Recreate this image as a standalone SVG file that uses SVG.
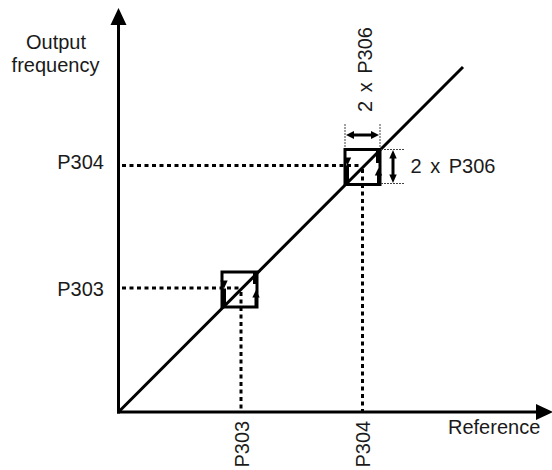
<svg xmlns="http://www.w3.org/2000/svg" width="552" height="470" viewBox="0 0 552 470">
<style>
.ax{stroke:#000;stroke-width:3;fill:none}
.dash{stroke:#000;stroke-width:3;stroke-dasharray:4 3.5;fill:none}
.ext{stroke:#444;stroke-width:1;stroke-dasharray:2 1;fill:none}
.box{stroke:#000;stroke-width:3;fill:none}
.thick{stroke:#000;stroke-width:5;fill:none}
.head{fill:#000;stroke:none}
.t{font-family:"Liberation Sans",Arial,Helvetica,sans-serif;font-size:20px;fill:#1a1a1a}
</style>
<rect width="552" height="470" fill="#fff"/>
<g id="connectors">
  <line class="ax" x1="118.5" y1="413.5" x2="118.5" y2="24"/>
  <polygon class="head" points="118.5,8 110.5,25 126.5,25"/>
  <line class="ax" x1="117" y1="412" x2="538" y2="412"/>
  <polygon class="head" points="553,412 536,404 536,420"/>
  <line class="ax" x1="118.5" y1="412" x2="463" y2="67"/>
  <line class="dash" x1="122" y1="288" x2="240" y2="288"/>
  <line class="dash" x1="241" y1="292" x2="241" y2="411"/>
  <line class="dash" x1="122" y1="165.5" x2="361" y2="165.5"/>
  <line class="dash" x1="362.5" y1="169" x2="362.5" y2="411"/>
</g>
<g id="box1">
  <rect class="box" x="222" y="272" width="35" height="35"/>
  <line class="thick" x1="223.5" y1="288.5" x2="223.5" y2="307"/>
  <polygon class="head" points="224,288.5 220.3,280.5 227.7,280.5"/>
  <line class="thick" x1="255.5" y1="272" x2="255.5" y2="284"/>
  <polygon class="head" points="256,290 252.3,297.5 259.7,297.5"/>
  <line class="ax" x1="256" y1="297" x2="256" y2="307"/>
</g>
<g id="box2">
  <rect class="box" x="345" y="149.5" width="35" height="35"/>
  <line class="thick" x1="346.5" y1="165.5" x2="346.5" y2="184.5"/>
  <polygon class="head" points="347.5,165.5 343.8,157.5 351.2,157.5"/>
  <line class="thick" x1="378.5" y1="149.5" x2="378.5" y2="163"/>
  <polygon class="head" points="378.5,168 374.8,175.5 382.2,175.5"/>
  <line class="ax" x1="378.5" y1="175" x2="378.5" y2="184.5"/>
</g>
<g id="dimensions">
  <line class="ext" x1="345" y1="124" x2="345" y2="148"/>
  <line class="ext" x1="380" y1="124" x2="380" y2="148"/>
  <line class="ax" x1="353" y1="135" x2="372" y2="135"/>
  <polygon class="head" points="346,135 354,131 354,139"/>
  <polygon class="head" points="379,135 371,131 371,139"/>
  <line class="ext" x1="381" y1="149.5" x2="404" y2="149.5"/>
  <line class="ext" x1="381" y1="183.5" x2="404" y2="183.5"/>
  <line class="ax" x1="393" y1="157" x2="393" y2="176"/>
  <polygon class="head" points="393,150 389.3,158.5 396.7,158.5"/>
  <polygon class="head" points="393,183 389.3,174.5 396.7,174.5"/>
</g>
<g id="labels">
  <text class="t" x="56" y="49" text-anchor="middle">Output</text>
  <text class="t" x="55.5" y="72" text-anchor="middle">frequency</text>
  <text class="t" x="104" y="168.5" text-anchor="end">P304</text>
  <text class="t" x="104" y="295.5" text-anchor="end">P303</text>
  <text class="t" x="410.5" y="173" style="word-spacing:3px">2 x P306</text>
  <text class="t" transform="translate(371.5,112) rotate(-90)" style="word-spacing:3px">2 x P306</text>
  <text class="t" transform="translate(249,467.5) rotate(-90)">P303</text>
  <text class="t" transform="translate(370,467.5) rotate(-90)">P304</text>
  <text class="t" x="448" y="434">Reference</text>
</g>
</svg>
